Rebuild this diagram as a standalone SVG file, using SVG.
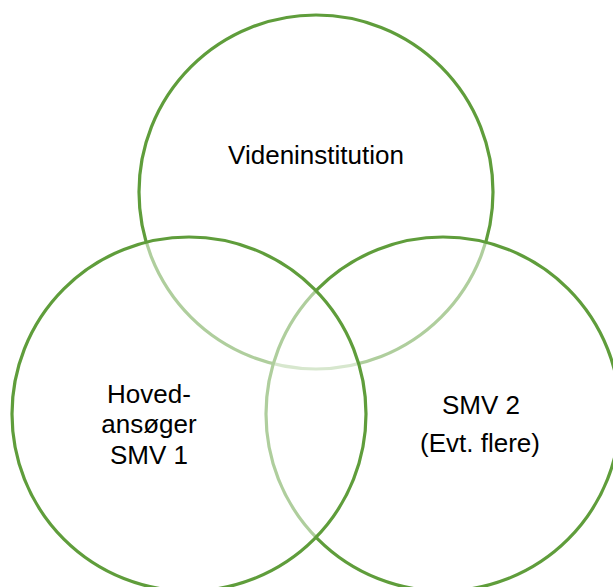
<svg xmlns="http://www.w3.org/2000/svg" width="613" height="587" viewBox="0 0 613 587">
<style>
.c{fill:#ffffff;fill-opacity:0.5;stroke:#5f9d3b;stroke-width:3.2}
.t{font-family:"Liberation Sans",Arial,sans-serif;font-size:26px;fill:#000;text-anchor:middle}
</style>
<rect width="613" height="587" fill="#fff"/>
<g id="viden">
<circle class="c" cx="316" cy="192" r="177"/>
<text class="t" x="316" y="164">Videninstitution</text>
</g>
<g id="smv2">
<circle class="c" cx="443" cy="414" r="177"/>
<text class="t" x="481" y="414">SMV 2</text>
<text class="t" x="480" y="452">(Evt. flere)</text>
</g>
<g id="smv1">
<circle class="c" cx="189" cy="414" r="177"/>
<text class="t" x="149" y="403">Hoved-</text>
<text class="t" x="149" y="433">ansøger</text>
<text class="t" x="149" y="464">SMV 1</text>
</g>
<g id="connectors"></g>
</svg>
